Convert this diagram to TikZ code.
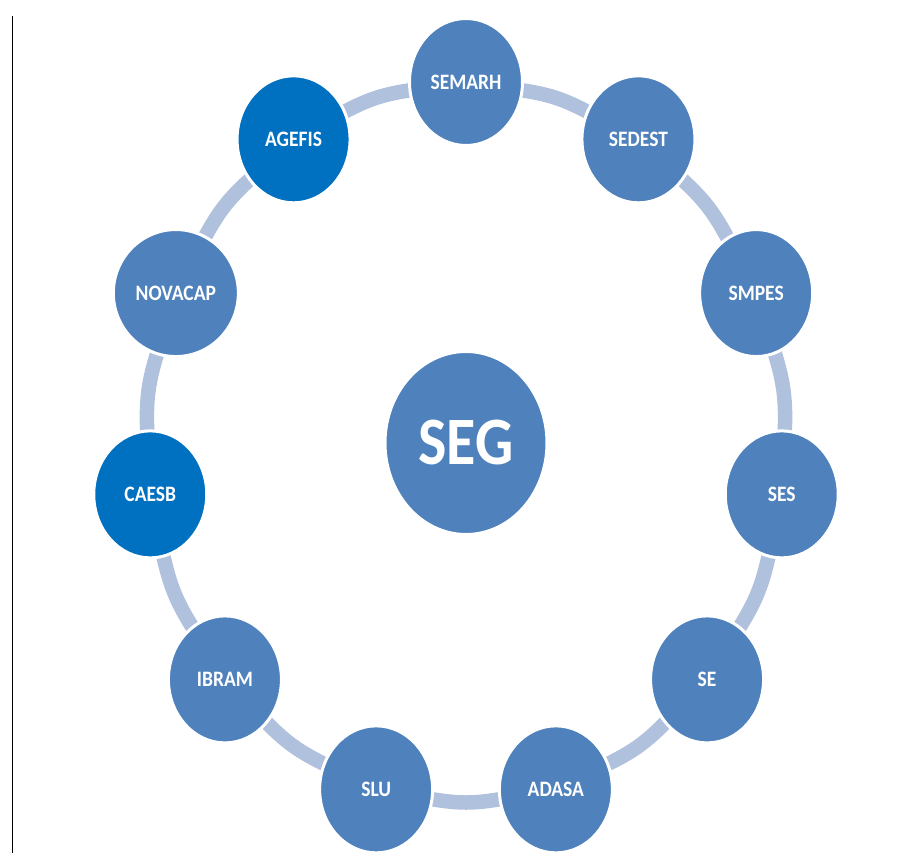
\documentclass[tikz,border=0pt]{standalone}
\usepackage{graphicx}
\usepackage{fontspec}
\setmainfont{Carlito}
\usetikzlibrary{shapes.geometric,backgrounds}
\definecolor{nodeblue}{HTML}{4F81BD}
\definecolor{darkblue}{HTML}{0070C0}
\definecolor{ringblue}{HTML}{B0C1DD}
\newcommand\vtxt[1]{\scalebox{1}[1.13]{#1}}
\begin{document}
\begin{tikzpicture}[x=1pt,y=1pt,
  org/.style={ellipse, fill=nodeblue, draw=white, line width=3pt,
    minimum width=113pt, minimum height=127pt, inner sep=0pt, text=white,
    font=\bfseries\fontsize{19.5}{20}\selectfont},
  orgdark/.style={org, fill=darkblue},
  hub/.style={ellipse, fill=nodeblue, draw=white, line width=3pt,
    minimum width=162pt, minimum height=183pt, inner sep=0pt, text=white,
    font=\bfseries\fontsize{60}{62}\selectfont},
  ring/.style={draw=ringblue, line width=14.5pt, bend left=10,
    shorten <=-6pt, shorten >=-6pt}]
\useasboundingbox (0,0) rectangle (911,-853);
\draw[line width=1.3pt] (12.5,-16) -- (12.5,-853);
\def\cx{466}\def\cy{-443}\def\rx{319}\def\ry{361}
\node[hub] (seg) at (\cx,\cy) {\vtxt{SEG}};
\node[org] (semarh) at ({\cx+\rx*cos(90)},{\cy+\ry*sin(90)}) {\vtxt{SEMARH}};
\node[org] (sedest) at ({\cx+\rx*cos(57.273)},{\cy+\ry*sin(57.273)}) {\vtxt{SEDEST}};
\node[org] (smpes) at ({\cx+\rx*cos(24.545)},{\cy+\ry*sin(24.545)}) {\vtxt{SMPES}};
\node[org] (ses) at ({\cx+\rx*cos(-8.182)},{\cy+\ry*sin(-8.182)}) {\vtxt{SES}};
\node[org] (se) at ({\cx+\rx*cos(-40.909)},{\cy+\ry*sin(-40.909)}) {\vtxt{SE}};
\node[org] (adasa) at ({\cx+\rx*cos(-73.636)},{\cy+\ry*sin(-73.636)}) {\vtxt{ADASA}};
\node[org] (slu) at ({\cx+\rx*cos(-106.364)},{\cy+\ry*sin(-106.364)}) {\vtxt{SLU}};
\node[org] (ibram) at ({\cx+\rx*cos(-139.091)},{\cy+\ry*sin(-139.091)}) {\vtxt{IBRAM}};
\node[orgdark] (caesb) at ({\cx+\rx*cos(-171.818)},{\cy+\ry*sin(-171.818)}) {\vtxt{CAESB}};
\node[org, minimum width=125pt] (novacap) at ({\cx+\rx*cos(-204.545)},{\cy+\ry*sin(-204.545)}) {\vtxt{NOVACAP}};
\node[orgdark] (agefis) at ({\cx+\rx*cos(-237.273)},{\cy+\ry*sin(-237.273)}) {\vtxt{AGEFIS}};
\begin{scope}[on background layer]
\draw[ring] (semarh) to (sedest);
\draw[ring] (sedest) to (smpes);
\draw[ring] (smpes) to (ses);
\draw[ring] (ses) to (se);
\draw[ring] (se) to (adasa);
\draw[ring] (adasa) to (slu);
\draw[ring] (slu) to (ibram);
\draw[ring] (ibram) to (caesb);
\draw[ring] (caesb) to (novacap);
\draw[ring] (novacap) to (agefis);
\draw[ring] (agefis) to (semarh);
\end{scope}
\end{tikzpicture}
\end{document}
